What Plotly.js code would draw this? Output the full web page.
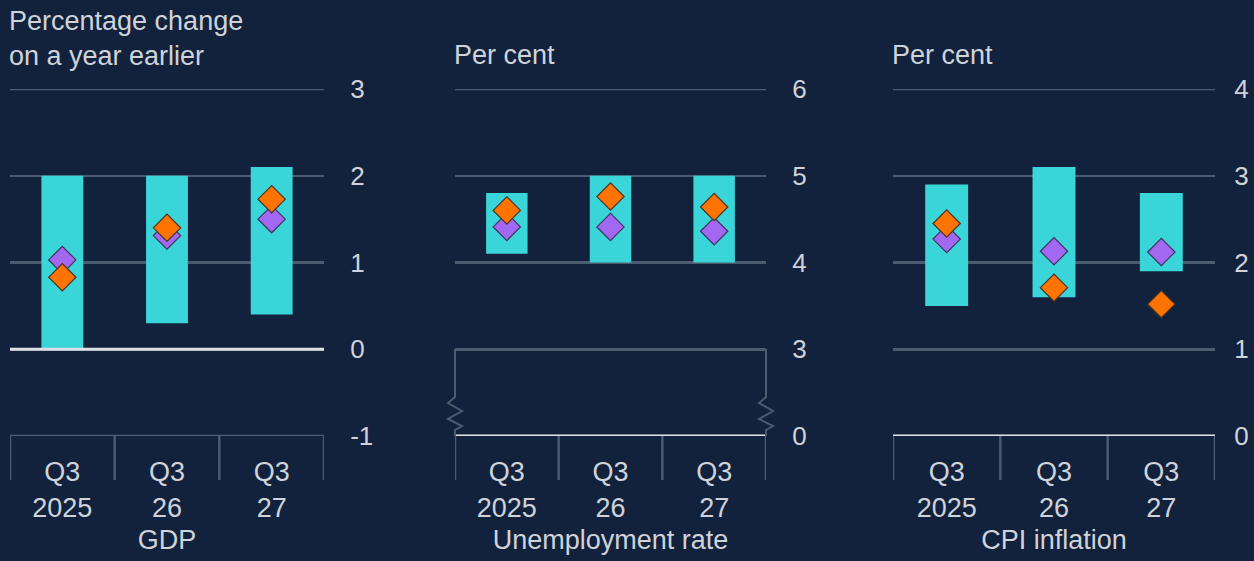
<!DOCTYPE html>
<html><head><meta charset="utf-8">
<script src="https://cdn.plot.ly/plotly-3.0.1.min.js"></script>
<style>html,body{margin:0;padding:0;background:#12223d}#chart{width:1254px;height:561px}</style>
</head><body><div id="chart"></div>
<script>
// ---- data ----
const categories = ['Q3<br>2025', 'Q3<br>26', 'Q3<br>27'];
const gdpLow = [0.0, 0.3, 0.4];
const gdpHigh = [2.0, 2.0, 2.1];
const gdpPurple = [1.03, 1.31, 1.50];
const gdpOrange = [0.83, 1.40, 1.73];
const unempLow = [4.1, 4.0, 4.0];
const unempHigh = [4.8, 5.0, 5.0];
const unempPurple = [4.41, 4.41, 4.36];
const unempOrange = [4.60, 4.76, 4.64];
const cpiLow = [1.5, 1.6, 1.9];
const cpiHigh = [2.9, 3.1, 2.8];
const cpiPurple = [2.27, 2.13, 2.12];
const cpiOrange = [2.45, 1.71, 1.52];
const panelTitles = ['GDP', 'Unemployment rate', 'CPI inflation'];
const unitLabels = ['Percentage change<br>on a year earlier', 'Per cent', 'Per cent'];
const gdpTickVals = [-1, 0, 1, 2, 3];
const gdpTickText = ['-1', '0', '1', '2', '3'];
const unempTickVals = [2, 3, 4, 5, 6];
const unempTickText = ['0', '3', '4', '5', '6'];
const cpiTickVals = [0, 1, 2, 3, 4];
const cpiTickText = ['0', '1', '2', '3', '4'];

// ---- style ----
const W = 1254, H = 561;
const BG = '#12223d', BAR = '#3ad5d8', ORANGE = '#ff7300', PURPLE = '#a368f2';
const GRID = '#4c5b70', WHITE = '#dde1e6', TXT = '#cfd3da';
const FONT = 'Liberation Sans, Arial, sans-serif';
const px = x => x / W, py = y => 1 - y / H;
const xIdx = categories.map((_, i) => i);

const panels = [
  {low: gdpLow, high: gdpHigh, pur: gdpPurple, ora: gdpOrange, range: [-1, 3], tv: gdpTickVals, tt: gdpTickText, x0: 10, x1: 324, tl: 20, uy: 4},
  {low: unempLow, high: unempHigh, pur: unempPurple, ora: unempOrange, range: [2, 6], tv: unempTickVals, tt: unempTickText, x0: 455, x1: 766, tl: 20, uy: 38},
  {low: cpiLow, high: cpiHigh, pur: cpiPurple, ora: cpiOrange, range: [0, 4], tv: cpiTickVals, tt: cpiTickText, x0: 893, x1: 1215, tl: 13, uy: 38}
];
const yTop = 89, yBot = 436, divBot = 480;

const data = [], layout = {
  width: W, height: H, margin: {l: 0, r: 0, t: 0, b: 0},
  paper_bgcolor: BG, plot_bgcolor: BG, showlegend: false,
  font: {family: FONT, color: TXT, size: 27},
  shapes: [], annotations: []
};

panels.forEach((p, i) => {
  const n = i === 0 ? '' : String(i + 1);
  const xa = 'x' + n, ya = 'y' + n;
  data.push({type: 'bar', x: xIdx, base: p.low, y: p.high.map((h, k) => h - p.low[k]),
    marker: {color: BAR, line: {width: 0}}, xaxis: xa, yaxis: ya, hoverinfo: 'skip', width: 0.4});
  data.push({type: 'scatter', mode: 'markers', x: xIdx, y: p.pur, xaxis: xa, yaxis: ya,
    marker: {symbol: 'diamond', size: 21, color: PURPLE, line: {color: '#3b3556', width: 1.2}}});
  data.push({type: 'scatter', mode: 'markers', x: xIdx, y: p.ora, xaxis: xa, yaxis: ya,
    marker: {symbol: 'diamond', size: 21, color: ORANGE, line: {color: '#4a3322', width: 1.2}}});

  layout['xaxis' + n] = {domain: [px(p.x0), px(p.x1)], range: [-0.5, 2.5], anchor: ya,
    tickvals: xIdx, ticktext: categories, ticks: 'outside', ticklen: 12, tickcolor: 'rgba(0,0,0,0)',
    showgrid: false, zeroline: false, showline: false, fixedrange: true,
    tickfont: {size: 27, color: TXT},
    title: {text: panelTitles[i], font: {size: 27, color: TXT}, standoff: 8}};
  layout['yaxis' + n] = {domain: [py(yBot), py(yTop)], range: p.range, anchor: xa, side: 'right',
    tickvals: p.tv, ticktext: p.tt, ticks: 'outside', ticklen: p.tl, tickcolor: 'rgba(0,0,0,0)',
    showgrid: true, gridcolor: GRID, gridwidth: 2.5, zeroline: false, showline: false, fixedrange: true,
    tickfont: {size: 26, color: TXT}};

  // grid lines at the range edges (plotly omits them)
  [p.range[0], p.range[1]].forEach(v => {
    layout.shapes.push({type: 'line', xref: xa + ' domain', yref: ya, x0: 0, x1: 1, y0: v, y1: v,
      line: {color: GRID, width: 2.5}, layer: 'below'});
  });
  // white baseline
  const baseVal = i === 0 ? 0 : p.range[0];
  layout.shapes.push({type: 'line', xref: xa + ' domain', yref: ya, x0: 0, x1: 1, y0: baseVal, y1: baseVal,
    line: {color: WHITE, width: 3}, layer: 'above'});
  // category dividers below axis
  [-0.5, 0.5, 1.5, 2.5].forEach(v => {
    layout.shapes.push({type: 'line', xref: xa, yref: 'paper', x0: v, x1: v, y0: py(yBot), y1: py(divBot),
      line: {color: GRID, width: 2.5}});
  });
  // unit label
  layout.annotations.push({xref: 'paper', yref: 'paper', x: px(p.x0 - 3), y: py(p.uy), xanchor: 'left', yanchor: 'top',
    align: 'left', showarrow: false, text: unitLabels[i], font: {size: 27, color: TXT}});
});

// broken-axis bracket on unemployment panel
[455, 766].forEach(x => {
  const pts = [[x, 349], [x, 397], [x - 7, 403], [x + 7, 411], [x - 7, 419], [x + 7, 426], [x, 430], [x, 436]];
  const path = pts.map((q, k) => (k ? 'L' : 'M') + px(q[0]) + ',' + py(q[1])).join(' ');
  layout.shapes.push({type: 'path', xref: 'paper', yref: 'paper', path: path, line: {color: GRID, width: 2}});
});

Plotly.newPlot('chart', data, layout, {displayModeBar: false, staticPlot: true});
</script></body></html>
